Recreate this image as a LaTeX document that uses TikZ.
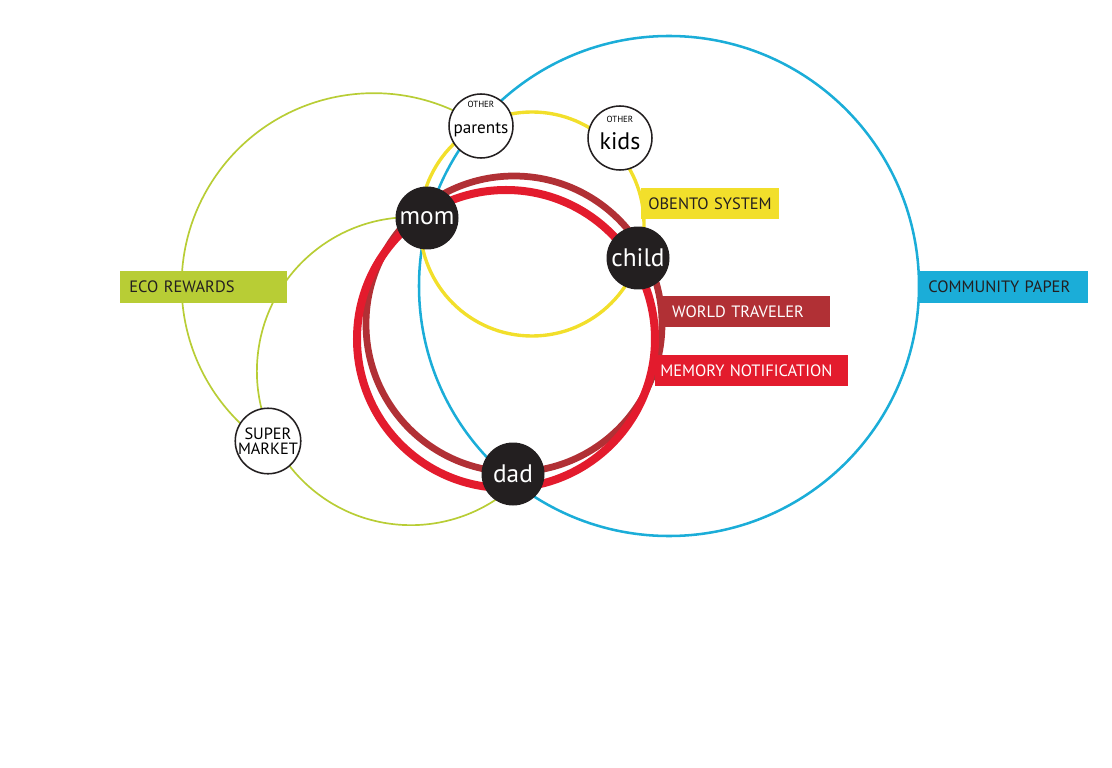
\documentclass[tikz,border=0pt]{standalone}
\usepackage{fontspec}
\setmainfont{PT Sans}
\usetikzlibrary{shapes.geometric}

\definecolor{ecogreen}{HTML}{B8CD35}
\definecolor{bentoyellow}{HTML}{F2DF2B}
\definecolor{paperblue}{HTML}{1BADD8}
\definecolor{travelred}{HTML}{B13035}
\definecolor{memoryred}{HTML}{E31B2D}
\definecolor{nodeblack}{HTML}{231F20}
\definecolor{tagtext}{HTML}{231F20}

\begin{document}
\begin{tikzpicture}[
  x=0.025cm,
  y=0.025cm,
  person/.style={circle, fill=nodeblack, text=white, minimum size=44.8pt, inner sep=0pt,
    font=\fontsize{18}{18}\selectfont},
  other/.style={circle, draw=nodeblack, line width=1.1pt, fill=white, minimum size=45.5pt,
    inner sep=0pt, align=center, text depth=0pt},
  tag/.style 2 args={rectangle, anchor=west, minimum height=22.4pt, inner ysep=0pt,
    text width=#1, inner xsep=#2, align=left, font=\fontsize{11.7}{12}\selectfont},
  ring/.style={line width=#1},
]
\useasboundingbox (0,0) rectangle (1112,-768);

% centres of the people
\coordinate (m) at (427,-218);
\coordinate (c) at (638,-258);
\coordinate (d) at (513,-474);
\coordinate (p) at (481,-126);
\coordinate (k) at (620,-138);
\coordinate (s) at (268,-441);

% centres of the services
\coordinate (paper) at (669,-286);
\coordinate (bento) at (532,-224);
\coordinate (travel) at (514,-324);
\coordinate (memory) at (506,-339);

\draw[ecogreen, ring=1.2pt] (p) arc[start angle=56, end angle=236, radius=192];
\draw[ecogreen, ring=1.2pt] (m) arc[start angle=84, end angle=305, radius=154];
\draw[paperblue, ring=1.8pt] (paper) circle[radius=250];
\draw[bentoyellow, ring=2.4pt] (bento) circle[radius=112];
\draw[travelred, ring=4.8pt] (travel) circle[radius=148];
\draw[memoryred, ring=5.7pt] (memory) circle[radius=149];

\node[tag={106pt}{6.4pt}, fill=ecogreen, text=tagtext] (eco) at (120,-287) {ECO REWARDS};
\node[tag={88.2pt}{5pt}, fill=bentoyellow, text=tagtext] (obento) at (641,-203.5) {OBENTO SYSTEM};
\node[tag={103.9pt}{8.5pt}, fill=travelred, text=white] (world) at (660,-311.5) {WORLD TRAVELER};
\node[tag={130.1pt}{3.6pt}, fill=memoryred, text=white] (notify) at (655,-370.5) {MEMORY NOTIFICATION};
\node[tag={107.4pt}{6.4pt}, fill=paperblue, text=tagtext] (community) at (919,-287) {COMMUNITY PAPER};

\node[other, text height=10pt, font=\fontsize{6.3}{0}\selectfont] (parents) at (p)
  {OTHER\\[9.4pt]{\fontsize{12.2}{0}\selectfont parents}};
\node[other, text height=16pt, font=\fontsize{6.3}{0}\selectfont] (kids) at (k)
  {OTHER\\[6.2pt]{\fontsize{17}{0}\selectfont kids}};
\node[other, font=\fontsize{11.6}{10.7}\selectfont] (market) at (s) {SUPER\\MARKET};

\node[person] (mom) at (m) {mom};
\node[person] (child) at (c) {child};
\node[person] (dad) at (d) {dad};

\end{tikzpicture}
\end{document}
